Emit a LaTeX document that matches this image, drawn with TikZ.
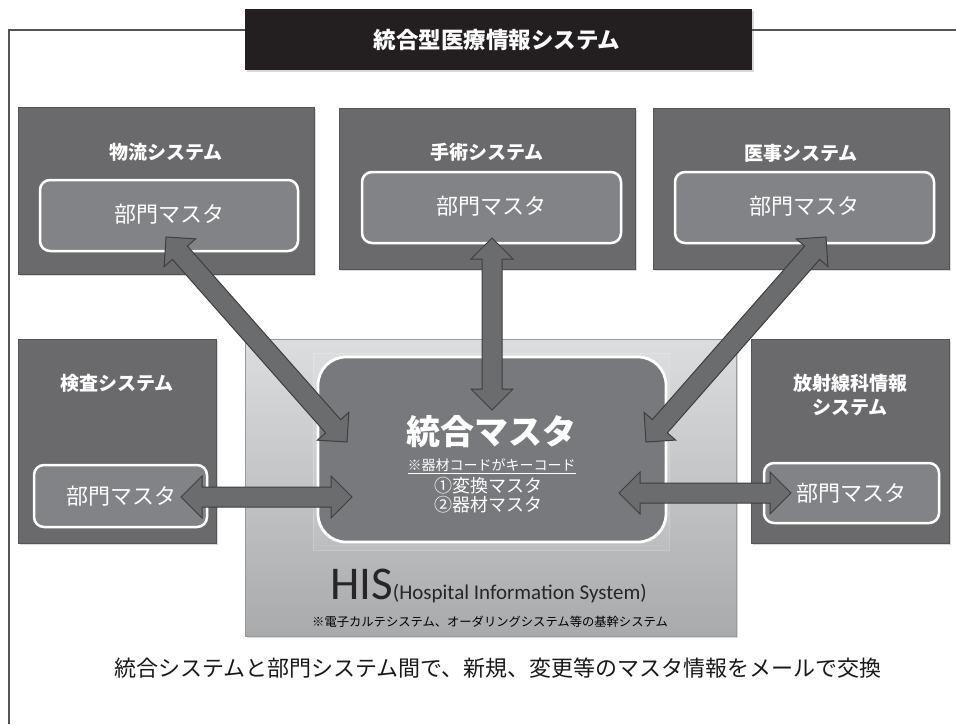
\documentclass[tikz,border=0pt]{standalone}
\usepackage{fontspec}
\setmainfont{Noto Sans CJK JP}
\newfontfamily\calib{Carlito}
\usetikzlibrary{calc,shadows}
\definecolor{boxgray}{HTML}{6A6A6C}
\definecolor{boxedge}{HTML}{555557}
\definecolor{innergray}{HTML}{828386}
\definecolor{titleblack}{HTML}{231F20}
\definecolor{arrgray}{HTML}{6B6C6E}
\definecolor{arredge}{HTML}{3E3E40}
\definecolor{histop}{HTML}{DCDDDE}
\definecolor{hisbot}{HTML}{A9AAAC}
\definecolor{tougou}{HTML}{78797C}
\definecolor{frameline}{HTML}{555555}
\newcommand\fs[1]{\fontsize{#1}{#1}\selectfont}
\newcommand\dblarr[2]{%
  \path ($(#1)!21pt!(#2)$) coordinate (q1) ($(#2)!21pt!(#1)$) coordinate (q2);
  \draw[dblarrow] (#1) -- ($(q1)!21pt!90:(#2)$) -- ($(q1)!10pt!90:(#2)$)
    -- ($(q2)!10pt!-90:(#1)$) -- ($(q2)!21pt!-90:(#1)$) -- (#2)
    -- ($(q2)!21pt!90:(#1)$) -- ($(q2)!10pt!90:(#1)$)
    -- ($(q1)!10pt!-90:(#2)$) -- ($(q1)!21pt!-90:(#2)$) -- cycle;}
\tikzset{
  sysbox/.style={draw=boxedge, fill=boxgray, line width=1pt, inner sep=0pt,
    drop shadow={shadow xshift=1.5pt, shadow yshift=-1.5pt, opacity=0.3}},
  innerbox/.style={draw=white, fill=innergray, line width=2.5pt, rounded corners=10pt, inner sep=0pt,
    drop shadow={shadow xshift=1.5pt, shadow yshift=-1.5pt, opacity=0.3}},
  systitle/.style={text=white, font=\bfseries\fontsize{19}{24}\selectfont, align=center},
  mtext/.style={text=white, font=\fs{22}},
  dblarrow/.style={fill=arrgray, draw=arredge, line width=1pt, line join=miter},
  frame/.style={draw=frameline, line width=1.3pt},
}
\begin{document}
\begin{tikzpicture}[x=1pt,y=-1pt]
\useasboundingbox (0,0) rectangle (956,724);
% title and frame
\node[fill=titleblack, minimum width=507pt, minimum height=61pt, inner sep=0pt,
  drop shadow={shadow xshift=1.5pt, shadow yshift=-1.5pt, opacity=0.3}] (title) at (498.5,39.5) {};
\node[text=white, font=\bfseries\fs{22.5}] (titletext) at (497,40) {統合型医療情報システム};
\coordinate (fl) at (9,30);
\coordinate (fbl) at (9,724);
\coordinate (fr) at (956,30);
\draw[frame] (title.west |- fl) -- (fl) -- (fbl);
\draw[frame] (title.east |- fl) -- (fr);

% top systems
\node[sysbox, minimum width=296pt, minimum height=167pt] (b1) at (166,190.5) {};
\node[systitle] (t1) at (166,152) {物流システム};
\node[innerbox, minimum width=258pt, minimum height=71pt] (m1) at (169,215.5) {};
\node[mtext] (m1t) at (169,214) {部門マスタ};

\node[sysbox, minimum width=296pt, minimum height=161pt] (b2) at (487,188.5) {};
\node[systitle] (t2) at (487,152) {手術システム};
\node[innerbox, minimum width=259pt, minimum height=71pt] (m2) at (491.5,207.5) {};
\node[mtext] (m2t) at (491.5,206) {部門マスタ};

\node[sysbox, minimum width=296pt, minimum height=161pt] (b3) at (801,188.5) {};
\node[systitle] (t3) at (801,153) {医事システム};
\node[innerbox, minimum width=259pt, minimum height=71pt] (m3) at (804.5,207.5) {};
\node[mtext] (m3t) at (804.5,206) {部門マスタ};

% bottom side systems
\node[sysbox, minimum width=198pt, minimum height=204pt] (b4) at (117,441) {};
\node[systitle] (t4) at (117,383) {検査システム};
\node[innerbox, minimum width=173pt, minimum height=62pt] (m4) at (120.5,496) {};
\node[mtext] (m4t) at (121,496) {部門マスタ};

\node[sysbox, minimum width=198pt, minimum height=204pt] (b5) at (850,441) {};
\node[systitle] (t5) at (850,395) {放射線科情報\\システム};
\node[innerbox, minimum width=175pt, minimum height=60pt] (m5) at (851.5,493) {};
\node[mtext] (m5t) at (851,493) {部門マスタ};

% HIS
\node[top color=histop, bottom color=hisbot, draw=gray!80, line width=0.8pt,
  minimum width=491pt, minimum height=297pt, inner sep=0pt,
  drop shadow={shadow xshift=1.5pt, shadow yshift=-1.5pt, opacity=0.3}] (his) at (490.5,487.5) {};
\node[fill=white, fill opacity=0.08, draw=white, draw opacity=0.2, line width=0.5pt,
  minimum width=356pt, minimum height=197pt, inner sep=0pt] (hisin) at (491,451.5) {};
\node[fill=tougou, draw=white, line width=2.8pt, rounded corners=28pt,
  minimum width=348pt, minimum height=185pt, inner sep=0pt] (tg) at (492,449.5) {};
\node[text=white, font=\bfseries\fs{34}] (tgt) at (491.5,432) {統合マスタ};
\node[text=white, font=\fs{14}] (tgk) at (491.5,466) {\underline{※器材コードがキーコード}};
\node[text=white, font=\fs{18}] (tg1) at (488,486) {①変換マスタ};
\node[text=white, font=\fs{18}] (tg2) at (488,505) {②器材マスタ};
\node[anchor=base west, inner sep=0pt, text=black!85] (histext) at (330,599)
  {\calib\fs{47}HIS\fs{21}(Hospital Information System)};
\node[font=\fs{12.3}, text=black] (hisnote) at (490,622)
  {※電子カルテシステム、オーダリングシステム等の基幹システム};

% arrows
\coordinate (a1s) at (166,237); \coordinate (a1e) at (347,442);
\coordinate (a2s) at (492,238); \coordinate (a2e) at (492,410);
\coordinate (a3s) at (826,237); \coordinate (a3e) at (646,442);
\coordinate (a4s) at (181,497); \coordinate (a4e) at (352,497);
\coordinate (a5s) at (619,493); \coordinate (a5e) at (791,493);
\dblarr{a1s}{a1e}
\dblarr{a2s}{a2e}
\dblarr{a3s}{a3e}
\dblarr{a4s}{a4e}
\dblarr{a5s}{a5e}

% bottom caption
\node[font=\fs{22}, text=black!90] (caption) at (498,668)
  {統合システムと部門システム間で、新規、変更等のマスタ情報をメールで交換};
\end{tikzpicture}
\end{document}
